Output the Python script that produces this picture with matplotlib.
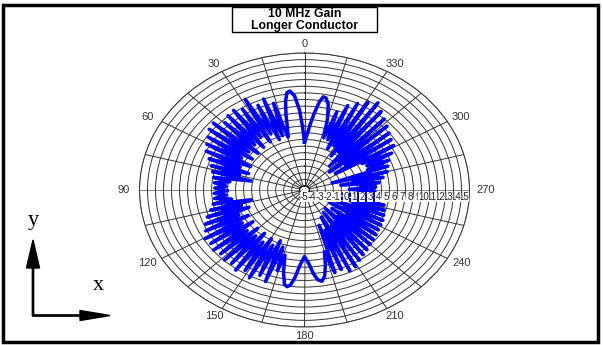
import numpy as np
import matplotlib.pyplot as plt
from matplotlib.patches import Rectangle
from matplotlib.transforms import offset_copy

plt.rcParams['font.family'] = ['Liberation Sans', 'DejaVu Sans']

# Gain pattern vertices: angle in degrees (0 = top, counter-clockwise), gain in dB
angle_deg = [
    0, 1.5, 3, 5, 7, 8.5, 10, 11.5, 13,
    14.5, 16.5, 18.5, 20.5, 22.5, 24.5, 26.5, 28.5, 30.5, 32.5, 34.5, 36.5,
    38.5, 40.5, 42.5, 44.5, 46.5, 48.5, 50.5, 52.5, 54.5, 56.5, 58.5, 60.5,
    62.5, 64.5, 66.5, 68.5, 70.5, 72.5, 74.5, 76.5, 78.5, 80.5, 82.5, 84.5,
    86.5, 88.5, 90.5, 92.5, 94.5, 96.5, 98.5, 100.5, 102.5, 104.5, 106.5, 108.5,
    110.5, 112.5, 114.5, 116.5, 118.5, 120.5, 122.5, 124.5, 126.5, 128.5,
    130.5, 132.5, 134.5, 136.5, 138.5, 140.5, 142.5, 144.5, 146.5, 148.5,
    150.5, 152.5, 154.5, 156.5, 158.5, 160.5, 162.5, 164.5, 166,
    168, 170, 171.5, 173, 175, 177, 180, 183, 185, 187, 189, 191, 193, 195,
    197, 199, 201, 203, 205, 207, 209, 211, 213, 215, 217, 219, 221, 223,
    225, 227, 229, 231, 233, 235, 237, 239, 241, 243, 245, 247, 249, 251,
    253, 255, 257, 259, 261, 263, 265, 267, 269, 271, 273, 275, 277, 279,
    281, 283, 285, 287, 289, 291, 293, 295, 297, 299, 301, 303, 305, 307,
    309, 311, 313, 315, 317, 319, 321, 323, 325, 327, 329, 331, 333, 335,
    337, 339, 341, 343,
    345, 347, 349, 350.5, 352, 354, 356, 358, 360,
]
gain_db = [
    1.6, 4.0, 6.5, 8.6, 9.4, 9.2, 8.0, 6.0, 3.8,
    2.6, 8.0, 3.0, 9.0, 2.6, 8.4, 3.8, 9.9, 2.8, 8.8, 4.0, 9.3,
    2.6, 9.1, 3.6, 8.6, 2.4, 9.6, 3.4, 9.4, 2.4, 8.8, 3.6, 8.4,
    2.0, 8.0, 3.2, 7.2, 1.8, 6.6, 2.8, 6.2, 1.2, 5.9, 3.8, 5.7,
    4.2, 5.6, 4.0, 5.7, 4.2, 5.7, 3.6, 6.0, 1.2, 6.5, 2.6, 7.2,
    1.8, 7.8, 3.4, 8.2, 2.4, 8.8, 3.6, 8.6, 2.4, 8.9,
    3.8, 8.6, 2.6, 8.9, 3.6, 8.7, 2.6, 9.2, 3.8, 8.6,
    2.8, 9.3, 3.6, 8.4, 2.6, 9.0, 3.4, 7.0, 4.5,
    7.0, 8.8, 9.1, 8.8, 7.5, 5.8, 4.4, 5.6, 7.0, 8.0, 8.3, 7.6, 6.0, 4.0,
    7.4, 0.0, 7.2, 1.0, 7.8, -1.0, 7.6, 0.8, 7.0, -1.5, 6.6, 0.5, 6.3, -1.8,
    6.0, 0.2, 5.8, -1.2, 5.6, 0.8, 5.4, -2.0, 5.3, 0.0, 5.2, -1.5, 5.0, 0.8,
    4.8, -1.0, 4.6, 1.0, 3.8, -0.8, 3.5, 1.2, 3.2, 0.0, 3.3, 1.4, 3.8, -1.0,
    4.4, 0.6, 5.1, -2.0, 5.4, 2.8, 5.8, 3.0, 6.6, 2.6, 7.4, -1.0, 7.6, 0.8,
    8.0, -1.5, 8.5, 0.5, 9.0, -0.8, 9.6, 1.5, 10.4, 0.5, 9.8, 2.0, 9.0, 1.2,
    8.2, 2.5, 6.8, 2.6,
    5.5, 7.6, 8.5, 8.6, 7.8, 6.0, 4.2, 2.6, 1.6,
]

ring_values = list(range(-5, 16))
spoke_angles = list(range(0, 360, 15))
label_angles = list(range(0, 360, 30))

W, H = 603, 345
cx, cy = 304.5, 190        # chart centre in pixels
rx, ry = 165, 137          # outer ring half-width / half-height in pixels

fig = plt.figure(figsize=(W / 100, H / 100), dpi=100)

# overlay in pixel coordinates for the frame, title box and axis marker
over = fig.add_axes([0, 0, 1, 1])
over.set_xlim(0, W)
over.set_ylim(H, 0)
over.axis('off')

over.add_patch(Rectangle((3, 5), 595, 337, fill=False, ec='black', lw=2.5))
over.add_patch(Rectangle((232, 7), 145, 25, fill=False, ec='black', lw=1.0))
over.text(304.5, 14, '10 MHz Gain', ha='center', va='center',
          fontsize=8.8, fontweight='bold')
over.text(304.5, 26, 'Longer Conductor', ha='center', va='center',
          fontsize=8.8, fontweight='bold')

over.arrow(33, 316, 0, -76, width=1.3, head_width=13, head_length=28,
           length_includes_head=True, color='black')
over.arrow(33, 315.5, 77, 0, width=1.3, head_width=10, head_length=30,
           length_includes_head=True, color='black')
over.text(33, 221, 'y', ha='center', va='center', fontsize=16,
          family='Liberation Serif')
over.text(98, 286, 'x', ha='center', va='center', fontsize=16,
          family='Liberation Serif')

# angle labels just outside the ellipse
for a in label_angles:
    t = np.deg2rad(a)
    over.text(cx - (rx + 16) * np.sin(t), cy - (ry + 9) * np.cos(t), str(a),
              ha='center', va='center', fontsize=8, color='#333333')

# elliptical polar chart
ax = fig.add_axes([(cx - rx) / W, (H - cy - ry) / H, 2 * rx / W, 2 * ry / H],
                  projection='polar')
ax.set_aspect('auto')
ax.set_theta_zero_location('N')
ax.set_theta_direction(1)
ax.set_rlim(-5, 15)
ax.set_rorigin(-5.6)
ax.set_rticks(ring_values)
ax.set_yticklabels([])
ax.set_thetagrids(spoke_angles, [''] * len(spoke_angles))
ax.grid(True, color='#333333', lw=0.7)
for a, gl in zip(spoke_angles, ax.xaxis.get_gridlines()):
    if a in (90, 270):
        gl.set_color('#888888')
ax.spines['polar'].set_color('#333333')
ax.spines['polar'].set_linewidth(0.7)

ax.plot(np.deg2rad(angle_deg), gain_db, color='#0000ff', lw=2.5, zorder=3)

# dB scale along the 270 spoke; "10" sits on top where the labels crowd
shifted = offset_copy(ax.transData, fig=fig, x=-0.5, y=-1.5, units='points')
for k in ring_values:
    order = k if k <= 10 else 20 - k
    ax.text(np.deg2rad(270), k, str(k), transform=shifted, ha='right',
            va='top', fontsize=7, color='#222222', zorder=5 + order * 0.01,
            bbox=dict(fc='white', ec='none', pad=0.2))

fig.savefig('out.png', dpi=100)
